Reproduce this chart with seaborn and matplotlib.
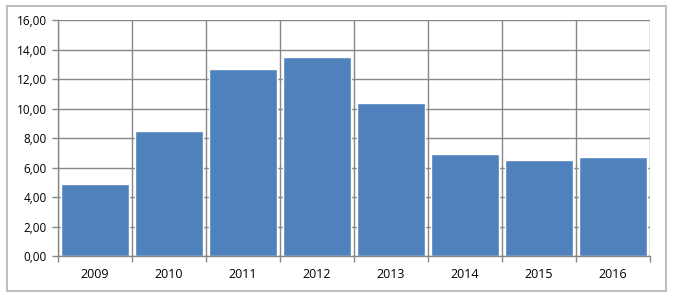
import matplotlib
matplotlib.use("Agg")
import matplotlib.pyplot as plt
import seaborn as sns
import pandas as pd
import numpy as np
from matplotlib.patches import Rectangle
from matplotlib.ticker import FuncFormatter, MultipleLocator, FixedLocator

years = ["2009", "2010", "2011", "2012", "2013", "2014", "2015", "2016"]
values = [4.86, 8.47, 12.66, 13.47, 10.35, 6.89, 6.53, 6.69]

sns.set_theme(style="white")
plt.rcParams["font.family"] = ["Open Sans", "DejaVu Sans"]

df = pd.DataFrame({"year": years, "value": values})

fig = plt.figure(figsize=(6.8, 3.0), dpi=100)
ax = fig.add_axes([58/680, 1-256/300, 592/680, 236/300])

grid_c = "#878787"
ax.set_axisbelow(True)
sns.barplot(data=df, x="year", y="value", color="#4F81BD", saturation=1,
            width=0.92, ax=ax, zorder=2)

ax.set_ylim(0, 16)
ax.set_xlim(-0.5, len(years) - 0.5)
ax.yaxis.set_major_locator(MultipleLocator(2))
ax.yaxis.set_major_formatter(FuncFormatter(lambda v, p: f"{v:.2f}".replace(".", ",")))
ax.set_xlabel("")
ax.set_ylabel("")

ax.xaxis.set_minor_locator(FixedLocator(np.arange(-0.5, len(years), 1.0)))
ax.grid(True, axis="y", which="major", color=grid_c, lw=1.0, zorder=0)
ax.grid(True, axis="x", which="minor", color=grid_c, lw=1.0, zorder=0)
ax.grid(False, axis="x", which="major")

ax.tick_params(axis="x", which="major", length=0, pad=9, labelsize=9, colors="black")
ax.tick_params(axis="x", which="minor", length=4, width=1, color=grid_c, direction="out", bottom=True)
ax.tick_params(axis="y", which="major", length=4, width=1, color=grid_c, direction="out",
               left=True, pad=4, labelsize=8.5, colors="black")
for lab in ax.get_yticklabels():
    lab.set_color("black")

for s in ["top", "right"]:
    ax.spines[s].set_visible(False)
for s in ["left", "bottom"]:
    ax.spines[s].set_color(grid_c)
    ax.spines[s].set_linewidth(1.0)

fig.patches.append(Rectangle((7/680, 1-291/300), 659/680, 285/300, transform=fig.transFigure,
                             fill=False, edgecolor="#BEBEBE", lw=1.5))

fig.savefig("out.png", dpi=100)
